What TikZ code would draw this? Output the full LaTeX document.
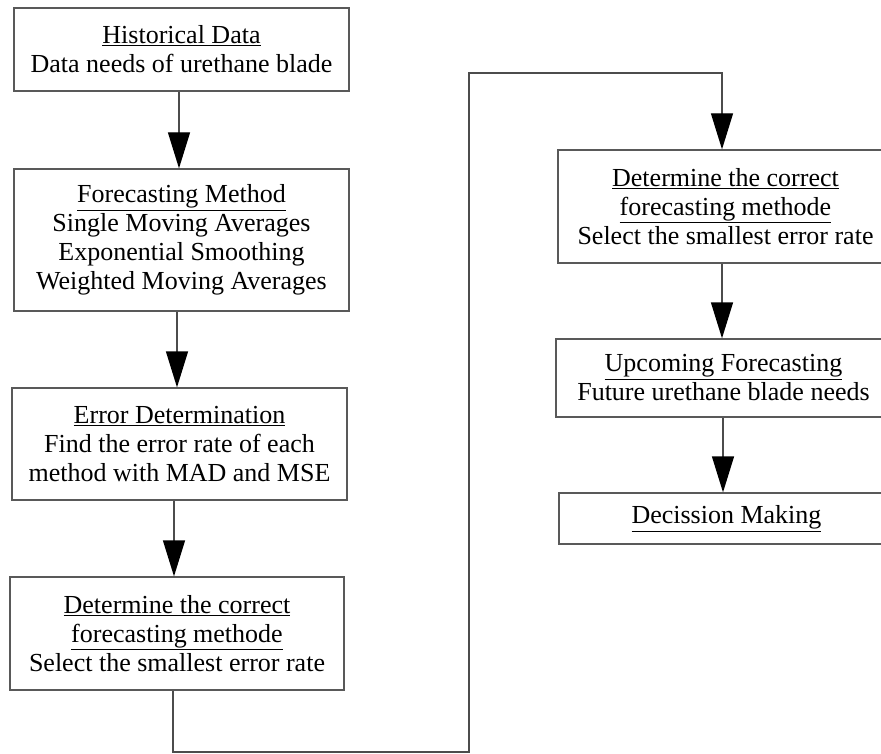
\documentclass[tikz,border=0pt]{standalone}
\usepackage{fontspec}
\setmainfont{Liberation Serif}
\usetikzlibrary{arrows.meta}
\begin{document}
\begin{tikzpicture}[x=1pt,y=-1pt,
  box/.style={draw=black!65,line width=1.3pt,rectangle,align=center,inner sep=0pt,
    font=\fontsize{26}{29}\selectfont,text=black},
  conn/.style={draw=black!70,line width=1.3pt},
  arr/.style={conn,-{Triangle[length=36pt,width=22pt,color=black]}}]
\useasboundingbox (0,0) rectangle (881,754);
\clip (0,0) rectangle (881,754);
\node[box,minimum width=335pt,minimum height=83pt] (b1) at (181.5,49.5)
  {\underline{Historical Data}\\Data needs of urethane blade};
\node[box,minimum width=335pt,minimum height=142pt] (b2) at (181.5,240)
  {\underline{Forecasting Method}\\Single Moving Averages\\Exponential Smoothing\\Weighted Moving Averages};
\node[box,minimum width=335pt,minimum height=112pt] (b3) at (179.5,444)
  {\underline{Error Determination}\\Find the error rate of each\\method with MAD and MSE};
\node[box,minimum width=334pt,minimum height=113pt] (b4) at (177,633.5)
  {\underline{Determine the correct}\\\underline{forecasting methode}\\Select the smallest error rate};
\node[box,minimum width=335pt,minimum height=113pt] (b5) at (725.5,206.5)
  {\underline{Determine the correct}\\\underline{forecasting methode}\\Select the smallest error rate};
\node[box,minimum width=335pt,minimum height=78pt] (b6) at (723.5,378)
  {\underline{Upcoming Forecasting}\\Future urethane blade needs};
\node[box,minimum width=335pt,minimum height=51pt] (b7) at (726.5,518.5)
  {\underline{Decission Making}};
\coordinate (c1) at (173,752);
\coordinate (c2) at (469,752);
\coordinate (c3) at (469,73);
\coordinate (c4) at (722,73);
\draw[arr] (b1.south -| 179,0) -- (b2.north -| 179,0);
\draw[arr] (b2.south -| 177,0) -- (b3.north -| 177,0);
\draw[arr] (b3.south -| 174,0) -- (b4.north -| 174,0);
\draw[arr] (b4.south -| c1) -- (c1) -- (c2) -- (c3) -- (c4) -- (b5.north -| c4);
\draw[arr] (b5.south -| 722,0) -- (b6.north -| 722,0);
\draw[arr] (b6.south -| 723,0) -- (b7.north -| 723,0);
\end{tikzpicture}
\end{document}
